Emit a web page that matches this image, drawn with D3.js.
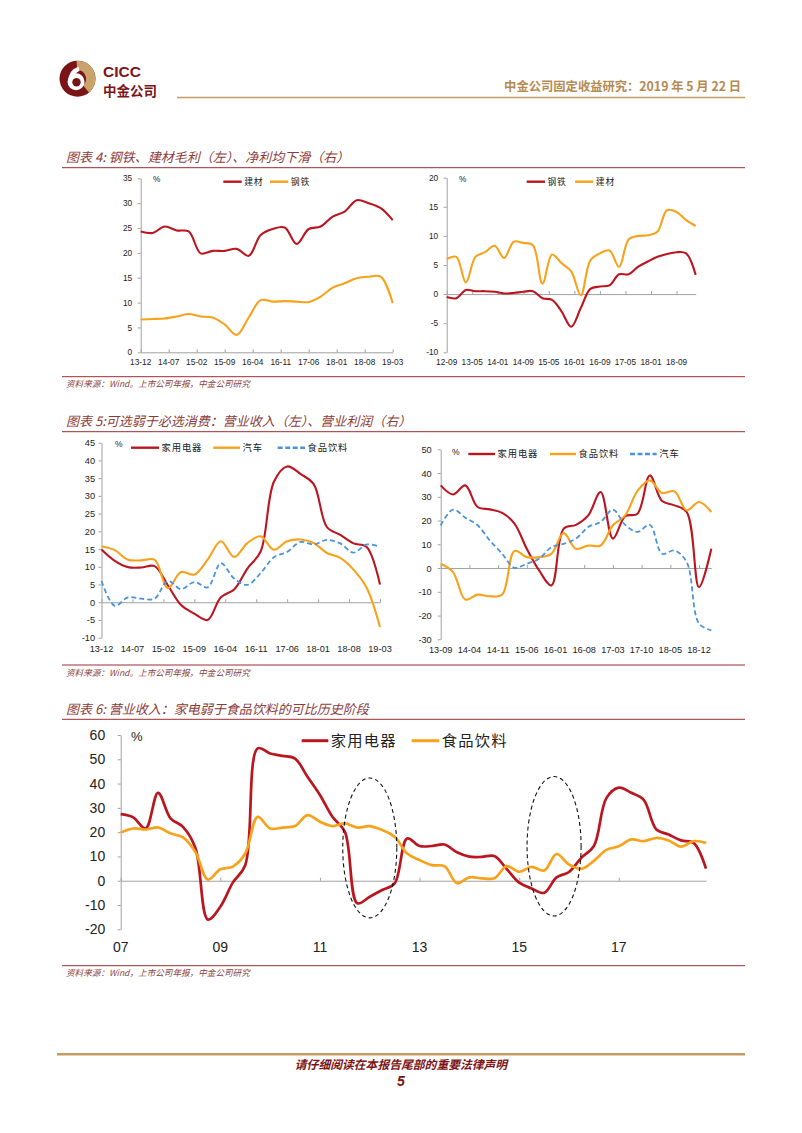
<!DOCTYPE html>
<html><head><meta charset="utf-8">
<script src="https://cdn.jsdelivr.net/npm/d3@7"></script>
<style>body{margin:0;background:#fff} svg{display:block}</style>
</head><body>
<svg id="page" width="802" height="1133"></svg>
<script>
// ---------------- DATA ----------------
// Chart 4 left: gross margin (%), quarterly from 13-12
const c4LStart = "13-12";
const c4LTicks = ["13-12","14-07","15-02","15-09","16-04","16-11","17-06","18-01","18-08","19-03"];
const c4LJiancai = [24.3,24.0,25.3,24.5,24.3,19.9,20.4,20.4,20.8,19.4,23.6,24.8,25.1,21.8,24.8,25.3,27.3,28.3,30.6,30.0,29.0,26.6];
const c4LGangtie = [6.6,6.7,6.8,7.2,7.7,7.2,7.0,5.6,3.5,7.0,10.5,10.2,10.3,10.2,10.1,11.2,13.0,13.9,14.9,15.2,15.2,9.9];
// Chart 4 right: net margin (%), quarterly from 12-09
const c4RStart = "12-09";
const c4RTicks = ["12-09","13-05","14-01","14-09","15-05","16-01","16-09","17-05","18-01","18-09"];
const c4RGangtie = [-0.5,-0.7,0.7,0.5,0.5,0.4,0.1,0.2,0.4,0.5,-0.7,-1.0,-3.0,-5.6,-2.4,0.9,1.3,1.5,3.4,3.4,4.7,5.6,6.4,6.9,7.2,7.0,3.3];
const c4RJiancai = [6.0,6.4,2.0,6.4,7.2,8.3,6.2,9.0,8.8,8.4,1.8,6.8,5.3,3.9,-0.2,5.8,7.0,7.5,4.7,9.4,10.0,10.1,10.7,14.4,14.1,12.7,11.7];
// Chart 5 left: revenue growth (%), quarterly from 13-12
const c5LStart = "13-12";
const c5LTicks = ["13-12","14-07","15-02","15-09","16-04","16-11","17-06","18-01","18-08","19-03"];
const c5LJiadian = [14.9,11.7,9.9,9.8,10.2,4.8,-0.8,-3.2,-5.0,1.4,3.6,9.5,14.3,34.0,38.3,36.2,33.3,21.2,19.0,16.6,15.6,5.0];
const c5LQiche = [15.8,14.7,12.0,11.8,12.0,4.0,8.5,7.8,12.0,17.2,12.8,16.7,18.6,14.8,17.2,17.7,16.7,13.9,12.5,9.2,4.0,-7.0];
const c5LShipin = [6.0,-1.0,1.4,1.0,1.0,6.0,3.7,5.7,4.2,11.0,6.7,4.9,8.2,12.7,14.2,17.0,16.3,17.6,16.6,14.0,16.3,15.6];
// Chart 5 right: operating profit growth (%), quarterly from 13-09
const c5RStart = "13-09";
const c5RTicks = ["13-09","14-04","14-11","15-06","16-01","16-08","17-03","17-10","18-05","18-12"];
const c5RJiadian = [34.8,31.0,34.8,25.7,24.7,23.2,18.7,8.1,-1.0,-7.3,16.6,18.2,22.2,32.0,12.4,21.8,22.9,39.0,28.2,26.4,23.6,-8.0,8.1];
const c5RShipin = [1.8,-1.7,-13.3,-11.2,-11.9,-11.1,7.2,4.6,4.6,6.0,14.7,8.1,9.5,9.5,18.0,22.2,32.5,36.9,31.6,32.3,24.3,27.8,23.6];
const c5RQiche = [18.0,24.6,21.2,18.0,11.6,6.0,0.1,1.8,3.9,8.8,10.2,12.4,17.3,19.4,24.6,18.2,15.2,18.2,6.0,7.4,2.5,-23.4,-26.2];
// Chart 6: revenue growth (%), quarterly from 07-06
const c6Start = "07-06";
const c6Ticks = ["07","09","11","13","15","17"];
const c6Jiadian = [27.4,26.1,21.5,36.2,25.7,22.2,13.5,-16.0,-10.7,-0.8,6.4,54.5,52.4,51.4,50.3,42.8,35.3,26.3,20.2,-9.3,-6.6,-3.8,
  -1.1,17.4,14.3,14.3,
  14.9,11.7,9.9,9.8,10.2,4.8,-0.8,-3.2,-5.0,1.4,3.6,9.5,14.3,34.0,38.3,36.2,33.3,21.2,19.0,16.6,15.6,5.0];
const c6Shipin = [19.8,21.5,21.1,21.9,19.5,17.8,11.8,0.5,4.7,5.8,11.2,26.3,21.5,21.9,22.5,27.0,24.3,22.5,23.6,21.9,22.5,20.9,
  18.1,11.2,8.5,6.4,
  6.0,-1.0,1.4,1.0,1.0,6.0,3.7,5.7,4.2,11.0,6.7,4.9,8.2,12.7,14.2,17.0,16.3,17.6,16.6,14.0,16.3,15.6];
// Highlighted periods (quarter index, value, half-width in quarters, half-height in %)
const c6Highlights = [{q:20.0, v:13.5, hq:2.17, hv:28.8},{q:34.8, v:14.2, hq:2.17, hv:28.7}];

// ---------------- DRAWING ----------------
const svg = d3.select("#page");
const FN = "'Liberation Sans', Arial, sans-serif";
const FC = "'Noto Sans CJK SC', sans-serif";
const RED = "#bb1620", ORG = "#f8a21c", BLU = "#4a94dc";
const DARK = "#7b1416", TITLE = "#8c3b3b", RULE = "#9c2c32", GOLD = "#c59c62";
const mi = s => (+s.slice(0,2))*12 + (+s.slice(3,5));

// Header
const lg = svg.append("g").attr("transform","translate(77.5,78.7)");
lg.append("circle").attr("r",18).attr("fill",DARK);
lg.append("path").attr("d", d3.arc().innerRadius(8.5).outerRadius(18).startAngle(-0.05).endAngle(Math.PI*0.78)()).attr("fill","#c9a26c");
lg.append("circle").attr("cx",-1.5).attr("cy",3).attr("r",8.5).attr("fill","#fff");
lg.append("path").attr("d","M-9.5,3 Q-9,-9 1,-12 L2,-8 Q-4,-5 -4,3 Z").attr("fill","#fff");
lg.append("circle").attr("cx",-1).attr("cy",3.5).attr("r",4.2).attr("fill",DARK);
svg.append("text").attr("x",103).attr("y",76.5).text("CICC").attr("font-family",FN).attr("font-weight","bold").attr("font-size",15.5).attr("fill",DARK);
svg.append("text").attr("x",103).attr("y",95.8).text("中金公司").attr("font-family",FC).attr("font-weight","bold").attr("font-size",13.5).attr("fill",DARK);
svg.append("line").attr("x1",177).attr("x2",745).attr("y1",97.5).attr("y2",97.5).attr("stroke",GOLD).attr("stroke-width",1.6);
svg.append("text").attr("x",741).attr("y",91).attr("text-anchor","end").text("中金公司固定收益研究：2019 年 5 月 22 日")
  .attr("font-family",FC).attr("font-weight","bold").attr("font-size",12.3).attr("fill","#b58a50");

function title(t, y){
  svg.append("text").attr("x",66).attr("y",y+4.5).text(t).attr("font-family",FC).attr("font-style","italic")
    .attr("font-size",13).attr("fill",TITLE);
  svg.append("line").attr("x1",62).attr("x2",745).attr("y1",y+10).attr("y2",y+10).attr("stroke",RULE).attr("stroke-width",1);
}
function source(t, y){
  svg.append("line").attr("x1",62).attr("x2",745).attr("y1",y).attr("y2",y).attr("stroke",RULE).attr("stroke-width",1);
  svg.append("text").attr("x",66).attr("y",y+10.5).text(t).attr("font-family",FC).attr("font-style","italic")
    .attr("font-size",8.6).attr("fill","#8a4545");
}

function chart(c){
  const g = svg.append("g");
  const n = c.series[0].values.length;
  const m0 = mi(c.start);
  const x = d3.scaleLinear().domain([m0, m0+3*(n-1)]).range(c.xRange);
  const y = d3.scaleLinear().domain(c.yDomain).range(c.yRange);
  const yt = d3.range(c.yDomain[0], c.yDomain[1]+0.001, c.yStep);
  const ya = g.append("g").attr("transform",`translate(${c.xRange[0]},0)`)
    .call(d3.axisLeft(y).tickValues(yt).tickSize(3).tickSizeOuter(0).tickPadding(c.yPad).tickFormat(d=>String(d)));
  ya.select(".domain").attr("stroke","#a0a0a0");
  ya.selectAll(".tick line").attr("stroke","#a0a0a0");
  ya.selectAll("text").attr("font-family",FN).attr("font-size",c.fs).attr("fill","#222");
  const base = Math.max(0, c.yDomain[0]);
  const tickPos = c.ticks.map(c.tickMi);
  const xa = g.append("g").attr("transform",`translate(0,${y(base)})`)
    .call(d3.axisBottom(x).tickValues(tickPos).tickSize(-3).tickSizeOuter(0).tickFormat(""));
  xa.select(".domain").attr("stroke","#a0a0a0");
  xa.selectAll(".tick line").attr("stroke","#a0a0a0");
  g.selectAll(".xl").data(c.ticks).join("text").attr("class","xl")
    .attr("x",d=>x(c.tickMi(d))).attr("y",c.xLabelY).attr("dy","0.35em").attr("text-anchor","middle")
    .text(d=>d).attr("font-family",FN).attr("font-size",c.xfs||c.fs).attr("fill","#222");
  const line = d3.line().x((d,i)=>x(m0+3*i)).y(d=>y(d)).curve(d3.curveCatmullRom.alpha(0.5));
  c.series.forEach(s=>{
    g.append("path").attr("d",line(s.values)).attr("fill","none").attr("stroke",s.color)
      .attr("stroke-width",s.w||c.lw).attr("stroke-dasharray",s.dash||null).attr("stroke-linejoin","round");
  });
  g.append("text").attr("x",c.pct[0]).attr("y",c.pct[1]).attr("dy","0.35em").text("%")
    .attr("font-family",FN).attr("font-size",c.pfs||c.fs).attr("fill","#222");
  c.series.forEach((s,i)=>{
    const L = c.legend[i];
    g.append("line").attr("x1",L[0]).attr("x2",L[1]).attr("y1",c.legY).attr("y2",c.legY).attr("stroke",s.color)
      .attr("stroke-width",c.legW).attr("stroke-dasharray",s.dash?(c.legDash||s.dash):null);
    g.append("text").attr("x",L[1]+c.legGap).attr("y",c.legY).attr("dy","0.36em").text(s.name)
      .attr("font-family",FC).attr("font-size",c.lfs).attr("fill","#222").attr("letter-spacing",c.lls||0);
  });
  return {g,x,y,m0};
}

// ----- Chart 4 -----
title("图表 4: 钢铁、建材毛利（左）、净利均下滑（右）", 157.7);
chart({start:c4LStart, ticks:c4LTicks, tickMi:mi, xRange:[140.7,392.7], yDomain:[0,35], yRange:[352.3,178.3], yStep:5, yPad:5.5,
  fs:8.3, xLabelY:362, lw:2.1, pct:[153,179], legY:181.7, legW:2.4, legGap:2.5, lfs:8.8, lls:0.8,
  legend:[[223.3,241.7],[270,288.3]],
  series:[{name:"建材",values:c4LJiancai,color:RED},{name:"钢铁",values:c4LGangtie,color:ORG}]});
chart({start:c4RStart, ticks:c4RTicks, tickMi:mi, xRange:[446.7,695.7], yDomain:[-10,20], yRange:[352.3,177.7], yStep:5, yPad:5.5,
  fs:8.3, xLabelY:362, lw:2.1, pct:[459,179], legY:181.7, legW:2.4, legGap:2.5, lfs:8.8, lls:0.8,
  legend:[[526.7,545],[575,593.3]],
  series:[{name:"钢铁",values:c4RGangtie,color:RED},{name:"建材",values:c4RJiancai,color:ORG}]});
source("资料来源：Wind。上市公司年报，中金公司研究", 376.7);

// ----- Chart 5 -----
title("图表 5:可选弱于必选消费：营业收入（左）、营业利润（右）", 421.7);
chart({start:c5LStart, ticks:c5LTicks, tickMi:mi, xRange:[101.5,380], yDomain:[-10,45], yRange:[637.7,442.7], yStep:5, yPad:3.5,
  fs:9.2, xLabelY:648.3, lw:2.1, pct:[115,444.5], pfs:8.5, legY:447.7, legW:2.4, legGap:2.5, lfs:9.3, lls:0.9, legDash:"5,2.5",
  legend:[[131,159],[213.3,240],[277.7,305]],
  series:[{name:"家用电器",values:c5LJiadian,color:RED},{name:"汽车",values:c5LQiche,color:ORG},
          {name:"食品饮料",values:c5LShipin,color:BLU,dash:"5,3",w:1.8}]});
chart({start:c5RStart, ticks:c5RTicks, tickMi:mi, xRange:[440.7,711.3], yDomain:[-30,50], yRange:[639.3,449.3], yStep:10, yPad:6,
  fs:9.2, xLabelY:650, lw:2.1, pct:[452,451.7], pfs:8.5, legY:454, legW:2.4, legGap:2.5, lfs:9.3, lls:0.9, legDash:"5,2.5",
  legend:[[468.3,495],[550,576],[630,656.7]],
  series:[{name:"家用电器",values:c5RJiadian,color:RED},{name:"食品饮料",values:c5RShipin,color:ORG},
          {name:"汽车",values:c5RQiche,color:BLU,dash:"5,3",w:1.8}]});
source("资料来源：Wind。上市公司年报，中金公司研究", 665);

// ----- Chart 6 -----
title("图表 6: 营业收入：家电弱于食品饮料的可比历史阶段", 709.3);
const c6 = chart({start:c6Start, ticks:c6Ticks, tickMi:t=>mi(t+"-06"), xRange:[120.7,706], yDomain:[-20,60], yRange:[929.3,735], yStep:10, yPad:12.5,
  fs:14, xLabelY:946.7, lw:2.7, pct:[131,736], pfs:13, legY:740.7, legW:3, legGap:2.5, lfs:15.3, lls:1.2,
  legend:[[301.7,328.3],[411.7,439.3]],
  series:[{name:"家用电器",values:c6Jiadian,color:RED},{name:"食品饮料",values:c6Shipin,color:ORG}]});
c6.g.selectAll(".hl").data(c6Highlights).join("ellipse").attr("class","hl")
  .attr("cx",d=>c6.x(c6.m0+3*d.q)).attr("cy",d=>c6.y(d.v))
  .attr("rx",d=>c6.x(c6.m0+3*(d.q+d.hq))-c6.x(c6.m0+3*d.q))
  .attr("ry",d=>c6.y(d.v-d.hv)-c6.y(d.v))
  .attr("fill","none").attr("stroke","#111").attr("stroke-width",1.1).attr("stroke-dasharray","4,3");
source("资料来源：Wind，上市公司年报，中金公司研究", 965.7);

// Footer
svg.append("line").attr("x1",57).attr("x2",745).attr("y1",1054.3).attr("y2",1054.3).attr("stroke",GOLD).attr("stroke-width",2.6);
svg.append("text").attr("x",401).attr("y",1069).attr("text-anchor","middle").text("请仔细阅读在本报告尾部的重要法律声明")
  .attr("font-family",FC).attr("font-style","italic").attr("font-weight","bold").attr("font-size",11.8).attr("fill",DARK);
svg.append("text").attr("x",401).attr("y",1086).attr("text-anchor","middle").text("5")
  .attr("font-family",FN).attr("font-style","italic").attr("font-weight","bold").attr("font-size",14).attr("fill",DARK);
</script>
</body></html>
